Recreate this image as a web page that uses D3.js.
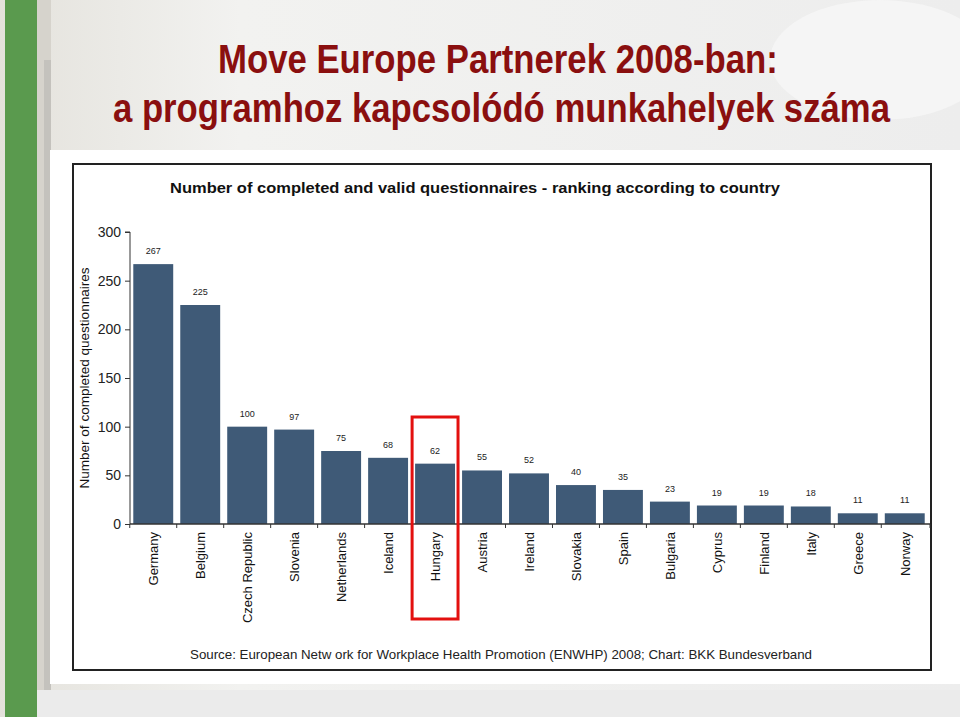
<!DOCTYPE html>
<html>
<head>
<meta charset="utf-8">
<script src="https://cdn.jsdelivr.net/npm/d3@7"></script>
<style>
  html, body { margin: 0; padding: 0; background: #fff; }
  svg { display: block; }
</style>
</head>
<body>
<script>
// ---- data ----
const titleLines = ["Move Europe Partnerek 2008-ban:", "a programhoz kapcsolódó munkahelyek száma"];
const chartTitle = "Number of completed and valid questionnaires - ranking according to country";
const yAxisTitle = "Number of completed questionnaires";
const sourceText = "Source: European Netw ork for Workplace Health Promotion (ENWHP) 2008; Chart: BKK Bundesverband";
const countries = ["Germany", "Belgium", "Czech Republic", "Slovenia", "Netherlands", "Iceland", "Hungary", "Austria", "Ireland", "Slovakia", "Spain", "Bulgaria", "Cyprus", "Finland", "Italy", "Greece", "Norway"];
const values = [267, 225, 100, 97, 75, 68, 62, 55, 52, 40, 35, 23, 19, 19, 18, 11, 11];
const yTicks = [0, 50, 100, 150, 200, 250, 300];
const highlighted = ["Hungary"];

// ---- drawing ----
const W = 960, H = 717;
const svg = d3.select("body").append("svg").attr("width", W).attr("height", H);
const defs = svg.append("defs");

const bgGrad = defs.append("linearGradient").attr("id", "bg").attr("x1", 0).attr("y1", 0).attr("x2", 1).attr("y2", 0);
bgGrad.append("stop").attr("offset", 0).attr("stop-color", "#e4e2dc");
bgGrad.append("stop").attr("offset", 0.25).attr("stop-color", "#f2f2f0");
bgGrad.append("stop").attr("offset", 1).attr("stop-color", "#ededed");
svg.append("rect").attr("width", W).attr("height", H).attr("fill", "url(#bg)");

// soft decorative shapes
svg.append("ellipse").attr("cx", 880).attr("cy", 60).attr("rx", 110).attr("ry", 60).attr("fill", "#f6f6f6").attr("opacity", 0.8);
svg.append("rect").attr("x", 37).attr("y", 0).attr("width", 14).attr("height", H).attr("fill", "#d6d3cc");
svg.append("rect").attr("x", 44).attr("y", 60).attr("width", 7).attr("height", 640).attr("fill", "#c4c2bd");
// bottom band
svg.append("rect").attr("x", 37).attr("y", 690).attr("width", W - 37).attr("height", 27).attr("fill", "#ebebeb");

// green bar
svg.append("rect").attr("x", 5).attr("y", 0).attr("width", 32).attr("height", H).attr("fill", "#5a9a4e");

// title (condensed horizontally to mimic a narrow bold face)
const titleSpans = [[218, 560], [113, 777]];
const title = svg.append("g").attr("font-family", "'Liberation Sans', Arial, sans-serif")
  .attr("font-weight", "bold").attr("fill", "#8a0f0f");
title.selectAll("text").data(titleLines).join("text")
  .attr("font-size", 40)
  .text(d => d)
  .each(function (d, i) {
    const natural = this.getComputedTextLength();
    const sx = titleSpans[i][1] / natural;
    d3.select(this).attr("transform", `translate(${titleSpans[i][0]},${73 + i * 49}) scale(${sx},1)`);
  });

// white panel
svg.append("rect").attr("x", 50).attr("y", 150).attr("width", W - 50).attr("height", 534).attr("fill", "#ffffff");

// frame
svg.append("rect").attr("x", 73).attr("y", 164).attr("width", 858).attr("height", 506)
  .attr("fill", "none").attr("stroke", "#222").attr("stroke-width", 2);

const font = "'Liberation Sans', Arial, Helvetica, sans-serif";

svg.append("text").attr("x", 170).attr("y", 193)
  .attr("font-family", font).attr("font-weight", "bold").attr("font-size", 15.5).attr("fill", "#111")
  .attr("textLength", 610).attr("lengthAdjust", "spacingAndGlyphs")
  .text(chartTitle);

const x = d3.scaleBand().domain(countries).range([130, 928]).paddingInner(0.15).paddingOuter(0.07);
const y = d3.scaleLinear().domain([0, 300]).range([524, 232]);

const g = svg.append("g").attr("font-family", font);

// bars
g.selectAll("rect.bar").data(countries).join("rect").attr("class", "bar")
  .attr("x", d => x(d)).attr("width", x.bandwidth())
  .attr("y", (d, i) => y(values[i])).attr("height", (d, i) => y(0) - y(values[i]))
  .attr("fill", "#3f5a77");

// value labels
g.selectAll("text.val").data(countries).join("text").attr("class", "val")
  .attr("x", d => x(d) + x.bandwidth() / 2)
  .attr("y", (d, i) => y(values[i]) - 10)
  .attr("text-anchor", "middle").attr("font-size", 9).attr("fill", "#222")
  .text((d, i) => values[i]);

// y axis
const yAxis = d3.axisLeft(y).tickValues(yTicks).tickSize(5).tickPadding(4);
const yg = g.append("g").attr("transform", "translate(130,0)").call(yAxis);
yg.select(".domain").attr("stroke", "#333").attr("d", "M-5," + y(300) + "H0V" + y(0));
yg.selectAll(".tick line").attr("stroke", "#333");
yg.selectAll(".tick text").attr("font-size", 14).attr("font-family", font).attr("fill", "#222");

// x axis
const xg = g.append("g").attr("transform", "translate(0,524)");
xg.append("line").attr("x1", 130).attr("x2", 930).attr("stroke", "#333").attr("stroke-width", 1.5);
const boundaries = countries.map(d => x(d) - x.step() * x.paddingInner() / 2).concat([930]);
xg.selectAll("line.tk").data(boundaries).join("line").attr("class", "tk")
  .attr("x1", d => d).attr("x2", d => d).attr("y1", 0).attr("y2", 4).attr("stroke", "#333");
xg.selectAll("text").data(countries).join("text")
  .attr("transform", d => `translate(${x(d) + x.bandwidth() / 2 + 5},8) rotate(-90)`)
  .attr("text-anchor", "end").attr("font-size", 13).attr("fill", "#111")
  .text(d => d);

// y axis title
g.append("text").attr("transform", "translate(89,378) rotate(-90)")
  .attr("text-anchor", "middle").attr("font-size", 13.5).attr("fill", "#111")
  .attr("textLength", 221).attr("lengthAdjust", "spacingAndGlyphs")
  .text(yAxisTitle);

// highlight box
g.selectAll("rect.hl").data(highlighted).join("rect").attr("class", "hl")
  .attr("x", d => x(d) - 3).attr("width", x.bandwidth() + 6)
  .attr("y", 417).attr("height", 202)
  .attr("fill", "none").attr("stroke", "#e3100f").attr("stroke-width", 3);

// source
g.append("text").attr("x", 190).attr("y", 659)
  .attr("font-size", 13).attr("fill", "#222")
  .attr("textLength", 622).attr("lengthAdjust", "spacingAndGlyphs")
  .text(sourceText);
</script>
</body>
</html>
